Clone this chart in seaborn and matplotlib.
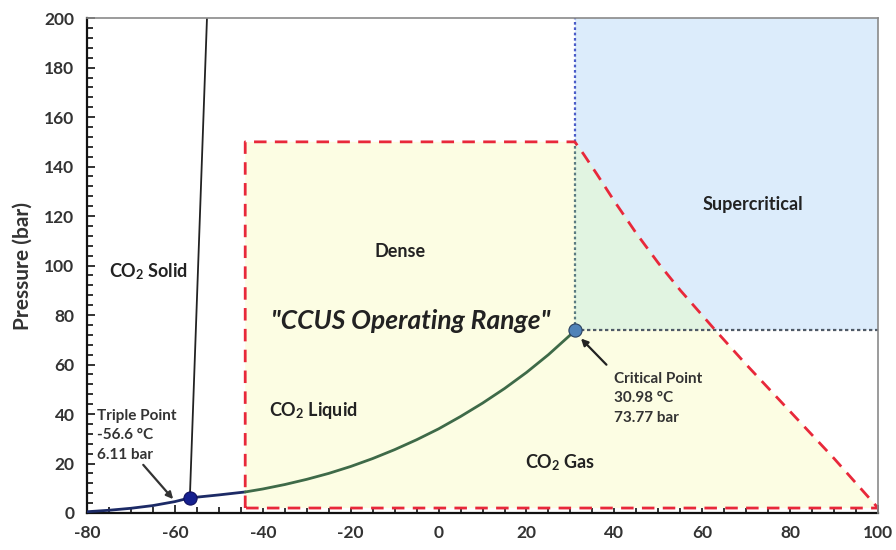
import matplotlib
matplotlib.use("Agg")
import matplotlib.pyplot as plt
from matplotlib.ticker import MultipleLocator
import seaborn as sns
import pandas as pd

# Phase boundaries of CO2 (temperature in °C, pressure in bar)
vap_temp = [-80, -75, -70, -65, -60, -56.6, -50, -44, -40, -35, -30, -25, -20, -15,
            -10, -5, 0, 5, 10, 15, 20, 25, 30, 30.98]
vap_pres = [0.5, 1.1, 1.9, 3.0, 4.6, 6.11, 7.3, 8.5, 9.7, 11.5, 13.6, 16.0, 18.8, 22.0,
            25.6, 29.6, 34.0, 39.0, 44.4, 50.3, 56.8, 64.0, 72.0, 73.77]
melt_temp = [-56.6, -52.7]
melt_pres = [6.11, 200]

# Special points
triple_point = (-56.6, 6.11)
critical_point = (30.98, 73.77)

# Operating envelope outline
env_temp = [-44, -44, 31, 33, 36, 40, 45, 50, 55, 62.9, 70, 80, 90, 100, -44]
env_pres = [2, 150, 150, 145, 137, 126, 113, 101, 90, 74, 60, 41, 22, 2, 2]
# Part of the envelope that lies inside the supercritical zone
overlap_temp = [31, 31, 33, 36, 40, 45, 50, 55, 62.9, 31]
overlap_pres = [74, 150, 145, 137, 126, 113, 101, 90, 74, 74]

x_ticks = [-80, -60, -40, -20, 0, 20, 40, 60, 80, 100]
y_ticks = [0, 20, 40, 60, 80, 100, 120, 140, 160, 180, 200]

sns.set_style("white")
plt.rcParams["font.family"] = ["Lato", "DejaVu Sans"]
plt.rcParams["axes.unicode_minus"] = False
plt.rcParams["mathtext.fontset"] = "custom"
plt.rcParams["mathtext.rm"] = "Lato"
plt.rcParams["mathtext.bf"] = "Lato:bold"
plt.rcParams["mathtext.it"] = "Lato:italic"

fig = plt.figure(figsize=(8.96, 5.5), dpi=100)
ax = fig.add_axes([0.0971, 0.0673, 0.8829, 0.8997])
ax.set_xlim(-80, 100)
ax.set_ylim(0, 200)

# Region shading
ax.fill_between([31, 100], 74, 200, color="#dcecfb", zorder=1, lw=0)
ax.fill(env_temp, env_pres, color="#fcfde3", zorder=2, lw=0)
ax.fill(overlap_temp, overlap_pres, color="#e1f4e1", zorder=3, lw=0)

# Critical-point guide lines
ax.plot([31, 31], [150, 200], color="#4a5cc8", ls=(0, (1.2, 1.2)), lw=1.6, zorder=4)
ax.plot([31, 31], [74, 150], color="#5a7a80", ls=(0, (1.2, 1.2)), lw=1.6, zorder=4)
ax.plot([31, 100], [74, 74], color="#505a66", ls=(0, (1.5, 1.2)), lw=1.6, zorder=4)

# Operating envelope outline
ax.plot(env_temp, env_pres, color="#e8283a", ls=(0, (4.5, 3)), lw=2.0, zorder=5)

# Phase boundary curves
vap = pd.DataFrame({"T": vap_temp, "P": vap_pres})
low = vap[vap["T"] <= -44]
high = vap[vap["T"] >= -44]
sns.lineplot(data=low, x="T", y="P", ax=ax, color="#1c2a66", lw=2.0,
             sort=False, estimator=None, zorder=6)
sns.lineplot(data=high, x="T", y="P", ax=ax, color="#3e6a48", lw=2.0,
             sort=False, estimator=None, zorder=6)
melt = pd.DataFrame({"T": melt_temp, "P": melt_pres})
sns.lineplot(data=melt, x="T", y="P", ax=ax, color="#222222", lw=1.3,
             sort=False, estimator=None, zorder=6)

# Triple and critical points
ax.scatter([triple_point[0]], [triple_point[1]], s=90, color="#15208f",
           edgecolor="#101060", lw=0.8, zorder=8)
ax.scatter([critical_point[0]], [critical_point[1]], s=90, color="#4f82b8",
           edgecolor="#2a4060", lw=0.8, zorder=8)

txt = dict(color="#222222", fontweight="bold", zorder=9)
ax.annotate("Triple Point\n-56.6 °C\n6.11 bar", xy=(-60.4, 5.6), xytext=(-77.8, 42.2),
            ha="left", va="top", fontsize=11, linespacing=1.5, color="#333333",
            fontweight="bold", zorder=9,
            arrowprops=dict(arrowstyle="-|>", color="#333333", lw=1.6,
                            shrinkA=0, shrinkB=0, mutation_scale=10,
                            relpos=(0.55, 0.0)))
ax.annotate("Critical Point\n30.98 °C\n73.77 bar", xy=(32.4, 70.5), xytext=(39.8, 57.0),
            ha="left", va="top", fontsize=11, linespacing=1.5, color="#333333",
            fontweight="bold", zorder=9,
            arrowprops=dict(arrowstyle="-|>", color="#222222", lw=1.6,
                            shrinkA=4, shrinkB=0, mutation_scale=10,
                            relpos=(0.0, 1.0)))

ax.text(-66.1, 97.4, r"CO$_\mathbf{2}$ Solid", ha="center", va="center", fontsize=13, **txt)
ax.text(-8.7, 105.5, "Dense", ha="center", va="center", fontsize=13, **txt)
ax.text(-6.4, 77.5, "\"CCUS Operating Range\"", ha="center", va="center", fontsize=19,
        fontstyle="italic", **txt)
ax.text(-28.5, 41.6, r"CO$_\mathbf{2}$ Liquid", ha="center", va="center", fontsize=13, **txt)
ax.text(27.7, 20.2, r"CO$_\mathbf{2}$ Gas", ha="center", va="center", fontsize=13, **txt)
ax.text(71.5, 124.8, "Supercritical", ha="center", va="center", fontsize=13, **txt)

# Axes styling
ax.set_xticks(x_ticks)
ax.set_yticks(y_ticks)
ax.xaxis.set_minor_locator(MultipleLocator(5))
ax.yaxis.set_minor_locator(MultipleLocator(4))
ax.tick_params(axis="both", which="both", direction="in", top=False, right=False,
               bottom=True, left=True, colors="#111111", labelcolor="#333333",
               labelsize=12.5, width=1.2)
ax.tick_params(axis="both", which="major", length=6, pad=9)
ax.tick_params(axis="both", which="minor", length=4)
for lbl in ax.get_xticklabels() + ax.get_yticklabels():
    lbl.set_fontweight("bold")
ax.set_xlabel("")
ax.set_ylabel("Pressure (bar)", fontsize=15, fontweight="bold", color="#333333", labelpad=8)

for side in ("left", "bottom"):
    ax.spines[side].set_color("#111111")
    ax.spines[side].set_linewidth(1.6)
for side in ("top", "right"):
    ax.spines[side].set_color("#8a8a8a")
    ax.spines[side].set_linewidth(1.2)
    ax.spines[side].set_zorder(10)

fig.savefig("out.png", dpi=100)
